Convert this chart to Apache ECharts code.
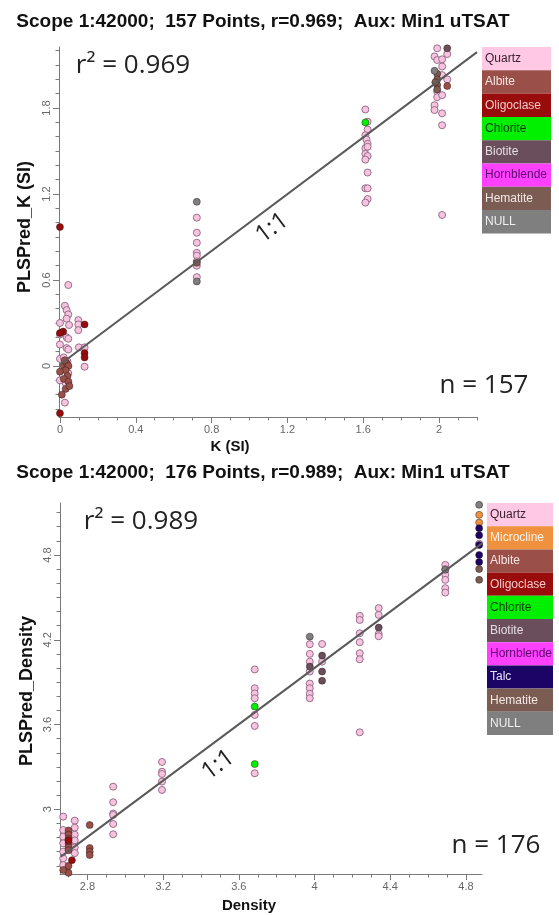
<!DOCTYPE html>
<html><head><meta charset="utf-8">
<script src="https://cdn.jsdelivr.net/npm/echarts@6/dist/echarts.min.js"></script>
<style>html,body{margin:0;padding:0;background:#fff}#c{width:559px;height:915px}</style>
</head><body><div id="c"></div>
<script>
// ---------- Top chart: K (SI) ----------
const titleTop = 'Scope 1:42000;  157 Points, r=0.969;  Aux: Min1 uTSAT';
const xNameTop = 'K (SI)';
const yNameTop = 'PLSPred_K (SI)';
const r2Top = 'r\u00B2 = 0.969';
const nTop = 'n = 157';
const xTicksTop = [0, 0.4, 0.8, 1.2, 1.6, 2];
const yTicksTop = [0, 0.6, 1.2, 1.8];
const legendTop = ['Quartz', 'Albite', 'Oligoclase', 'Chlorite', 'Biotite', 'Hornblende', 'Hematite', 'NULL'];
const lineTop = [[0, 0.01], [2.2, 2.19]];

const kQuartz = [[0.044,0.565],[0.026,0.42],[0.035,0.39],[0.044,0.36],[0.035,0.33],[0.048,0.286],[0.035,0.2],[0.044,0.19],
 [0.035,0.125],[0.044,0.115],[0.0,0.3],[0.0,0.22],[0.0,0.15],[0.0,0.05],[0.02,0.06],[0.04,0.03],[0.044,-0.05],[0.03,-0.12],
 [0.026,-0.256],[0.097,0.32],[0.097,0.29],[0.097,0.25],[0.1,0.13],[0.13,0.13],[0.13,-0.005],[0.0,-0.1],
 [0.722,1.035],[0.722,0.93],[0.722,0.86],[0.722,0.79],[0.722,0.77],[0.722,0.73],[0.722,0.70],[0.722,0.62],
 [1.611,1.79],[1.623,1.705],[1.623,1.65],[1.611,1.61],[1.617,1.58],[1.623,1.55],[1.611,1.52],[1.623,1.53],[1.611,1.48],
 [1.623,1.465],[1.611,1.44],[1.623,1.35],[1.611,1.24],[1.623,1.24],[1.623,1.165],[1.611,1.14],
 [1.99,2.217],[2.043,2.177],[1.976,2.16],[1.99,2.135],[2.016,2.14],[2.016,2.09],[2.016,2.03],[2.043,2.0],[1.99,1.915],
 [1.99,1.876],[2.016,1.89],[1.976,1.82],[1.976,1.786],[2.016,1.763],[2.016,1.68],[2.016,1.054]];
const kAlbite = [[0.02,0.0],[0.035,0.02],[0.045,0.0],[0.03,-0.03],[0.04,-0.07],[0.02,-0.09],[0.045,-0.11],[0.03,-0.16],
 [0.01,-0.2],[0.0,-0.04],[0.05,-0.14],[0.025,0.04],[2.043,1.954]];
const kOligoclase = [[0.0,0.97],[0.017,0.24],[0.13,0.29],[0.13,0.09],[0.13,0.06],[0.0,-0.33],[0.0,0.23]];
const kChlorite = [[1.611,1.70]];
const kBiotite = [[2.043,2.217]];
const kHematite = [[0.722,0.72],[1.99,2.04],[1.99,2.0],[1.99,1.96],[1.99,1.93],[1.98,1.98]];
const kNull = [[0.722,1.146],[0.722,0.59],[1.976,2.06]];

// ---------- Bottom chart: Density ----------
const titleBot = 'Scope 1:42000;  176 Points, r=0.989;  Aux: Min1 uTSAT';
const xNameBot = 'Density';
const yNameBot = 'PLSPred_Density';
const r2Bot = 'r\u00B2 = 0.989';
const nBot = 'n = 176';
const xTicksBot = [2.8, 3.2, 3.6, 4, 4.4, 4.8];
const yTicksBot = [3, 3.6, 4.2, 4.8];
const legendBot = ['Quartz', 'Microcline', 'Albite', 'Oligoclase', 'Chlorite', 'Biotite', 'Hornblende', 'Talc', 'Hematite', 'NULL'];
const lineBot = [[2.66, 2.665], [4.885, 4.882]];

const dQuartz = [[2.672,2.948],[2.672,2.853],[2.672,2.806],[2.672,2.759],[2.672,2.70],[2.672,2.653],[2.672,2.605],
 [2.733,2.92],[2.733,2.87],[2.733,2.82],[2.733,2.78],[2.733,2.73],[2.733,2.69],
 [2.936,3.16],[2.936,3.05],[2.936,2.97],[2.936,2.96],[2.936,2.896],[2.936,2.823],
 [3.194,3.335],[3.194,3.266],[3.194,3.25],[3.194,3.196],[3.194,3.137],
 [3.684,3.99],[3.684,3.857],[3.684,3.82],[3.684,3.786],[3.684,3.668],[3.684,3.59],[3.684,3.255],
 [3.975,4.168],[4.04,4.17],[3.975,4.1],[3.975,4.045],[4.04,4.045],[3.975,3.975],[3.975,3.89],[3.975,3.857],[3.975,3.817],[3.975,3.786],
 [4.239,4.369],[4.239,4.34],[4.239,4.246],[4.239,4.183],[4.239,4.105],[4.239,4.062],[4.239,3.545],
 [4.339,4.424],[4.339,4.376],[4.339,4.24],[4.339,4.225],
 [4.691,4.73],[4.691,4.70],[4.691,4.66],[4.691,4.624],[4.691,4.565],[4.691,4.534],[4.87,4.88]];
const dMicrocline = [[4.87,5.084],[4.87,5.03]];
const dAlbite = [[2.7,2.85],[2.7,2.82],[2.7,2.79],[2.7,2.76],[2.7,2.73],[2.7,2.71],[2.69,2.57],[2.7,2.6],[2.7,2.55],
 [2.672,2.57],[2.812,2.889],[2.812,2.726],[2.812,2.70],[2.812,2.676]];
const dOligoclase = [[2.7,2.78],[2.718,2.64]];
const dChlorite = [[3.684,3.727],[3.684,3.32]];
const dBiotite = [[4.04,4.088],[4.04,3.975],[4.04,3.91],[4.339,4.286],[3.975,4.01]];
const dTalc = [[4.87,4.99],[4.87,4.94],[4.87,4.87],[4.87,4.8],[4.87,4.75]];
const dHematite = [[4.87,4.624],[4.87,4.7]];
const dNull = [[3.975,4.222],[4.691,4.695],[4.87,5.155]];

// ---------- styles ----------
const COLORS = {Quartz:'#f6c4de', Microcline:'#f0913f', Albite:'#9a5048', Oligoclase:'#980c0c', Chlorite:'#00f000',
  Biotite:'#6b4e5c', Hornblende:'#ff40ff', Talc:'#1c0466', Hematite:'#7b5c52', NULL:'#7f7f7f'};
const LEGEND_BG = Object.assign({}, COLORS, {Quartz:'#ffc9e5'});
const LEGEND_TXT = {Quartz:'#3a2030', Microcline:'#fff4e8', Albite:'#f4e4e4', Oligoclase:'#f2c8c8', Chlorite:'#0a3a0a',
  Biotite:'#e4dce0', Hornblende:'#5a0a6a', Talc:'#e8e4f4', Hematite:'#f2e8e4', NULL:'#f0f0f0'};
const AX = '#7a7a7a', LBL = '#666', FONT = '"Liberation Sans", Arial, sans-serif';

function range(a, b, s) { const r = []; for (let v = a; v <= b + 1e-9; v += s) r.push(Math.round(v * 1000) / 1000); return r; }

function majorAxis(dim, grid, min, max, ticks) {
  return {type:'value', gridIndex:grid, min, max, position: dim === 'x' ? 'bottom' : 'left',
    axisLine:{show:true, onZero:false, lineStyle:{color:AX, width:1}},
    axisTick:{show:true, inside:false, length:6, customValues:ticks, lineStyle:{color:AX}},
    axisLabel:{show:true, customValues:ticks, color:LBL, fontSize:11, fontFamily:FONT, margin:7, rotate: dim === 'y' ? 90 : 0},
    splitLine:{show:false}};
}
function minorAxis(dim, grid, min, max, ticks) {
  return {type:'value', gridIndex:grid, min, max, position: dim === 'x' ? 'bottom' : 'left', offset:0,
    axisLine:{show:false, onZero:false},
    axisTick:{show:true, inside:false, length:3.5, customValues:ticks, lineStyle:{color:AX}},
    axisLabel:{show:false}, splitLine:{show:false}};
}
function sc(name, data, ai) {
  return {type:'scatter', name, data, xAxisIndex:ai, yAxisIndex:ai, symbol:'circle', symbolSize:7, silent:true, z:3,
    itemStyle:{color:COLORS[name], borderColor: name === 'Quartz' ? '#9a6e8c' : 'rgba(40,20,20,0.45)', borderWidth:1, opacity:1}};
}
function oneLine(data, ai) {
  return {type:'line', data, xAxisIndex:ai, yAxisIndex:ai, symbol:'none', silent:true, z:5,
    lineStyle:{color:'#5a5a5a', width:2}};
}
function txt(text, x, y, font, opts) {
  opts = opts || {};
  return {type:'text', x, y, rotation: opts.rot || 0, z:10,
    style:{text, font, fill: opts.fill || '#111', textAlign: opts.align || 'center', textVerticalAlign:'middle',
      align: opts.align || 'center', verticalAlign:'middle'}};
}
function legend(names, x0, y0, w, h) {
  const els = [];
  names.forEach((n, i) => {
    els.push({type:'rect', shape:{x:x0, y:y0 + i * h, width:w, height:h}, style:{fill:LEGEND_BG[n]}, z:8});
    els.push(txt(n, x0 + 3, y0 + i * h + h / 2, '12px ' + FONT, {fill:LEGEND_TXT[n], align:'left'}));
  });
  return els;
}

const graphics = [].concat(
  [txt(titleTop, 263, 22, 'bold 19px ' + FONT),
   txt(xNameTop, 230, 447, 'bold 15px ' + FONT),
   txt(yNameTop, 25, 227, 'bold 18px ' + FONT, {rot:Math.PI / 2}),
   txt(r2Top, 133, 66, '26px "Open Sans", sans-serif', {fill:'#222'}),
   txt(nTop, 484, 386, '26px "Open Sans", sans-serif', {fill:'#222'}),
   txt('1:1', 272, 228, '24px "Open Sans", sans-serif', {fill:'#222', rot:37 * Math.PI / 180}),
   txt(titleBot, 263, 473, 'bold 19px ' + FONT),
   txt(xNameBot, 249, 906, 'bold 15px ' + FONT),
   txt(yNameBot, 27, 691, 'bold 18px ' + FONT, {rot:Math.PI / 2}),
   txt(r2Bot, 141, 522, '26px "Open Sans", sans-serif', {fill:'#222'}),
   txt(nBot, 496, 846, '26px "Open Sans", sans-serif', {fill:'#222'}),
   txt('1:1', 218, 765, '24px "Open Sans", sans-serif', {fill:'#222', rot:37 * Math.PI / 180})],
  legend(legendTop, 482, 47, 69, 23.3),
  legend(legendBot, 487, 503, 66, 23.2)
);

const chart = echarts.init(document.getElementById('c'), null, {renderer:'canvas'});
chart.setOption({
  animation:false,
  backgroundColor:'#fff',
  grid:[{left:59, top:47, width:418, height:370}, {left:60, top:503, width:422, height:371}],
  xAxis:[majorAxis('x', 0, -0.005, 2.2, xTicksTop), minorAxis('x', 0, -0.005, 2.2, range(0, 2.2, 0.1)),
         majorAxis('x', 1, 2.655, 4.885, xTicksBot), minorAxis('x', 1, 2.655, 4.885, range(2.7, 4.8, 0.1))],
  yAxis:[majorAxis('y', 0, -0.356, 2.226, yTicksTop), minorAxis('y', 0, -0.356, 2.226, range(-0.3, 2.2, 0.1)),
         majorAxis('y', 1, 2.542, 5.168, yTicksBot), minorAxis('y', 1, 2.542, 5.168, range(2.6, 5.1, 0.1))],
  series:[
    sc('Quartz', kQuartz, 0), sc('Albite', kAlbite, 0), sc('Oligoclase', kOligoclase, 0), sc('Chlorite', kChlorite, 0),
    sc('Biotite', kBiotite, 0), sc('Hematite', kHematite, 0), sc('NULL', kNull, 0), oneLine(lineTop, 0),
    sc('Quartz', dQuartz, 2), sc('Microcline', dMicrocline, 2), sc('Albite', dAlbite, 2), sc('Oligoclase', dOligoclase, 2),
    sc('Chlorite', dChlorite, 2), sc('Biotite', dBiotite, 2), sc('Talc', dTalc, 2), sc('Hematite', dHematite, 2),
    sc('NULL', dNull, 2), oneLine(lineBot, 2)
  ],
  graphic:{elements:graphics}
});
</script></body></html>
